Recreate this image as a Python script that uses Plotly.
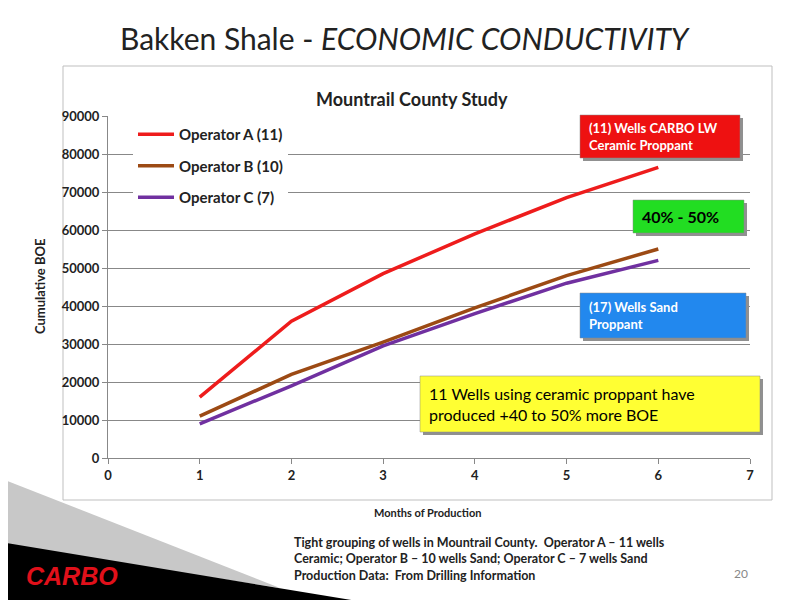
import plotly.graph_objects as go

months = [1, 2, 3, 4, 5, 6]
op_a = [16000, 36000, 48500, 59000, 68500, 76500]
op_b = [11000, 22000, 30500, 39500, 48000, 55000]
op_c = [9000, 19000, 29500, 38000, 46000, 52000]
names = ["Operator A (11)", "Operator B (10)", "Operator C (7)"]
colors = ["#EE1C1C", "#9C4A14", "#7030A0"]

OFF = 8
L, R, T, B = 108, 750, 116, 458
def px(x): return (x - L) / (R - L)
def py(y): return (B - y) / (B - T)

fig = go.Figure()
for i, (n, v, c) in enumerate(zip(names, [op_a, op_b, op_c], colors)):
    fig.add_trace(go.Scatter(x=months, y=v, name=n, mode="lines", legendgroup=f"g{i}",
                             line=dict(color=c, width=3.5)))

shapes = [
    dict(type="rect", xref="paper", yref="paper", x0=px(63), x1=px(772), y0=py(500), y1=py(66),
         line=dict(color="#BFBFBF", width=1), layer="below"),
    dict(type="path", xref="paper", yref="paper",
         path=f"M {px(0)} {py(478)} L {px(280)} {py(588)} L {px(0)} {py(545)} Z",
         fillcolor="#C8C8C8", line=dict(width=0)),
    dict(type="path", xref="paper", yref="paper",
         path=f"M {px(0)} {py(542)} L {px(400)} {py(608)} L {px(0)} {py(608)} Z",
         fillcolor="#000000", line=dict(width=0)),
]

def box(x0, y0, x1, y1, color, text, fs, tcolor="white"):
    shapes.append(dict(type="rect", xref="paper", yref="paper", x0=px(x0+3), x1=px(x1+3),
                       y0=py(y1+3), y1=py(y0+3), fillcolor="#909090", line=dict(width=0)))
    shapes.append(dict(type="rect", xref="paper", yref="paper", x0=px(x0), x1=px(x1),
                       y0=py(y1), y1=py(y0), fillcolor=color, line=dict(color="#888", width=0.5)))
    return dict(xref="paper", yref="paper", x=px(x0 + 7), y=py((y0 + y1) / 2),
                xanchor="left", yanchor="middle", align="left", showarrow=False,
                text=text, font=dict(size=fs, color=tcolor, family="Lato"))

anns = [
    box(580, 115, 740, 158, "#EE1111", "<b>(11) Wells CARBO LW<br>Ceramic Proppant</b>", 13),
    box(633, 200, 744, 233, "#22DD22", "<b>40% - 50%</b>", 16, "black"),
    box(580, 293, 746, 338, "#2288EE", "<b>(17) Wells Sand<br>Proppant</b>", 13),
    box(420, 376, 760, 432, "#FFFF33", "11 Wells using ceramic proppant have<br>produced +40 to 50% more BOE", 16, "black"),
    dict(xref="paper", yref="paper", x=px(405), y=py(38), xanchor="center", yanchor="middle",
         showarrow=False, text="Bakken Shale - <i>ECONOMIC CONDUCTIVITY</i>",
         font=dict(size=30, family="Lato", color="#222")),
    dict(xref="paper", yref="paper", x=px(412), y=py(99), xanchor="center", yanchor="middle",
         showarrow=False, text="<b>Mountrail County Study</b>", font=dict(size=18, family="Lato", color="#222")),
    dict(xref="paper", yref="paper", x=px(427), y=py(512), xanchor="center", yanchor="middle",
         showarrow=False, text="<b>Months of Production</b>", font=dict(size=11, family="Lato", color="#222")),
    dict(xref="paper", yref="paper", x=px(40), y=py(287), xanchor="center", yanchor="middle",
         showarrow=False, text="<b>Cumulative BOE</b>", textangle=-90, font=dict(size=13, family="Lato", color="#222")),
    dict(xref="paper", yref="paper", x=px(292), y=py(559), xanchor="left", yanchor="middle", align="left",
         showarrow=False, text="<b>Tight grouping of wells in Mountrail County.  Operator A – 11 wells<br>Ceramic; Operator B – 10 wells Sand; Operator C – 7 wells Sand<br>Production Data:  From Drilling Information</b>",
         font=dict(size=12.5, family="Lato", color="#222")),
    dict(xref="paper", yref="paper", x=px(750), y=py(573), xanchor="right", yanchor="middle",
         showarrow=False, text="20", font=dict(size=12, family="Lato", color="#888")),
    dict(xref="paper", yref="paper", x=px(72), y=py(576), xanchor="center", yanchor="middle",
         showarrow=False, text="<b><i>CARBO</i></b>", font=dict(size=25, family="Liberation Sans", color="#E0101A")),
]

fig.update_layout(
    width=800, height=600, margin=dict(l=L - OFF, r=800 - R + OFF, t=T - OFF, b=600 - B + OFF, autoexpand=False),
    paper_bgcolor="white", plot_bgcolor="white", font=dict(family="Lato", color="#222"),
    shapes=shapes, annotations=anns,
    xaxis=dict(range=[0, 7], dtick=1, showgrid=False, showline=True, linecolor="#888",
               ticks="outside", ticklen=5, tickcolor="#888", tickfont=dict(size=13, family="Lato"), zeroline=False),
    yaxis=dict(range=[0, 90000], dtick=10000, showgrid=True, gridcolor="#888", showline=True, linecolor="#888",
               ticks="outside", ticklen=5, tickcolor="#888", tickfont=dict(size=13, family="Lato"), zeroline=False,
               tickformat="d"),
    legend=dict(x=px(133), y=py(118), xanchor="left", yanchor="top", bgcolor="white",
                font=dict(size=15, family="Lato"), tracegroupgap=9, itemwidth=36),
)
fig.update_layout(xaxis_tickfont_weight="bold", yaxis_tickfont_weight="bold", legend_font_weight="bold")
fig.write_html("out.html")
